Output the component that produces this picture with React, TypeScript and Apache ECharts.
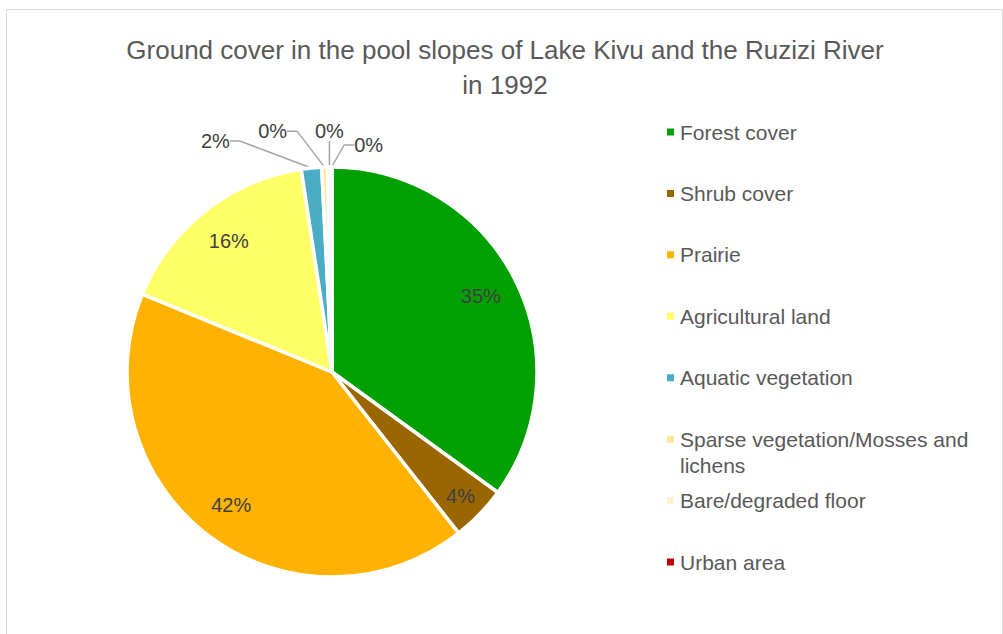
import React, { useEffect, useRef } from 'react';
import * as echarts from 'echarts';

// ---------- data ----------
const categories = [
  'Forest cover',
  'Shrub cover',
  'Prairie',
  'Agricultural land',
  'Aquatic vegetation',
  'Sparse vegetation/Mosses and lichens',
  'Bare/degraded floor',
  'Urban area',
];
const shares = [35.0, 4.4, 41.8, 16.4, 1.6, 0.45, 0.3, 0.05];
const colors = ['#00A000', '#996600', '#FFB300', '#FFFF66', '#4BACC6', '#FFE699', '#FFF2CC', '#C00000'];
const titleLines = ['Ground cover in the pool slopes of Lake Kivu and the Ruzizi River', 'in 1992'];

// ---------- layout / style ----------
const W = 1003;
const H = 634;
const CX = 332;
const CY = 372;
const R = 205;
const FONT = 'Liberation Sans';
const TEXT_COLOR = '#595959';
const LABEL_COLOR = '#404040';
const insideLabelRadius: Record<string, number> = {
  'Forest cover': 0.815,
  'Shrub cover': 0.87,
  'Prairie': 0.815,
  'Agricultural land': 0.815,
};
const outsideLabelOffset: Record<string, [number, number]> = {
  'Aquatic vegetation': [-96, -27],
  'Sparse vegetation/Mosses and lichens': [-52, -36],
  'Bare/degraded floor': [0, -36],
  'Urban area': [37, -22],
};
const LEGEND_LEFT = 665;
const LEGEND_FIRST = 132;
const LEGEND_STEP = 61.43;
const LEGEND_LH = 26;
const WRAPPED_LEGEND = 'Sparse vegetation/Mosses and lichens';

export default function App() {
  const ref = useRef<HTMLDivElement>(null);
  useEffect(() => {
    if (!ref.current) return;
    const chart = echarts.init(ref.current, undefined, { renderer: 'svg' });

    const data = categories.map((name, i) => {
      const inside = insideLabelRadius[name] != null;
      return {
        name,
        value: shares[i],
        itemStyle: { color: colors[i] },
        label: { position: inside ? 'inside' : 'outside' },
        labelLine: { show: !inside },
      };
    });

    const legends = categories.map((name, i) => {
      const multi = name === WRAPPED_LEGEND;
      const half = multi ? LEGEND_LH * 1.5 : LEGEND_LH / 2;
      return {
        orient: 'vertical',
        left: LEGEND_LEFT,
        top: LEGEND_FIRST + i * LEGEND_STEP - half,
        data: [name],
        icon: 'rect',
        itemWidth: 9,
        itemHeight: 9,
        selectedMode: false,
        padding: 0,
        formatter: (n: string) => (n === WRAPPED_LEGEND ? '\n' + n : n),
        textStyle: {
          fontFamily: FONT,
          fontSize: 21,
          color: TEXT_COLOR,
          lineHeight: LEGEND_LH,
          width: 315,
          overflow: 'break',
        },
      };
    });

    chart.setOption({
      animation: false,
      backgroundColor: '#ffffff',
      title: {
        text: titleLines.join('\n'),
        left: 505,
        top: 32,
        textAlign: 'center',
        padding: 0,
        textStyle: {
          fontFamily: FONT,
          fontSize: 26,
          fontWeight: 'normal',
          color: TEXT_COLOR,
          lineHeight: 35,
        },
      },
      legend: legends,
      graphic: [
        {
          type: 'rect',
          silent: true,
          shape: { x: 6.5, y: 9.5, width: 996, height: 700 },
          style: { fill: 'none', stroke: '#d9d9d9', lineWidth: 1 },
        },
      ],
      series: [
        {
          type: 'pie',
          center: [CX, CY],
          radius: R,
          startAngle: 90,
          clockwise: true,
          avoidLabelOverlap: false,
          itemStyle: { borderColor: '#ffffff', borderWidth: 3.5 },
          emphasis: { disabled: true },
          label: {
            show: true,
            fontFamily: FONT,
            fontSize: 20,
            color: LABEL_COLOR,
            formatter: (p: any) => Math.round(p.percent) + '%',
          },
          labelLine: {
            show: true,
            length: 10,
            length2: 10,
            lineStyle: { color: '#a6a6a6', width: 1.5 },
          },
          labelLayout: (p: any) => {
            const name = categories[p.dataIndex];
            const ratio = insideLabelRadius[name];
            if (ratio != null) {
              const lx = p.labelRect.x + p.labelRect.width / 2;
              const ly = p.labelRect.y + p.labelRect.height / 2;
              const dx = lx - CX;
              const dy = ly - CY;
              const d = Math.sqrt(dx * dx + dy * dy) || 1;
              return {
                x: CX + (dx / d) * R * ratio,
                y: CY + (dy / d) * R * ratio,
                align: 'center',
                verticalAlign: 'middle',
              };
            }
            const off = outsideLabelOffset[name] || [0, -30];
            const a = p.labelLinePoints ? p.labelLinePoints[0] : [CX, CY - R];
            return {
              x: a[0] + off[0],
              y: a[1] + off[1],
              align: 'center',
              verticalAlign: 'middle',
            };
          },
          data,
        },
      ],
    });
    return () => chart.dispose();
  }, []);
  return (
    <div
      ref={ref}
      style={{ position: 'absolute', left: 0, top: 0, width: W, height: H, background: '#fff' }}
    />
  );
}
